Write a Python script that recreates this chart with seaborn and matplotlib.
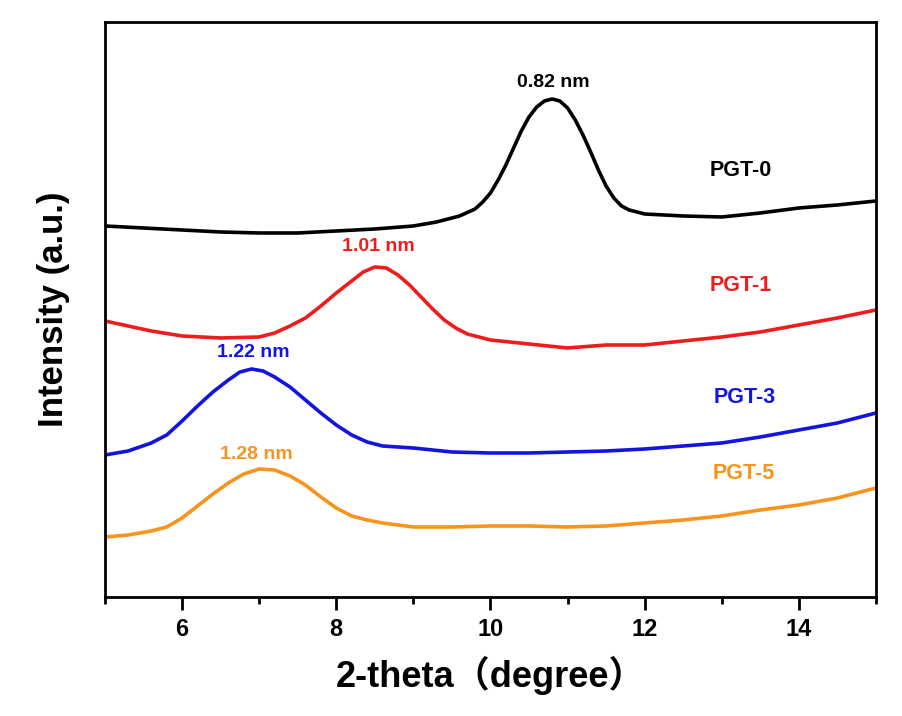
import numpy as np
import pandas as pd
import matplotlib
matplotlib.use("Agg")
import matplotlib.pyplot as plt
import seaborn as sns
from matplotlib.ticker import MultipleLocator

# ---------------- data ----------------
x_pgt0 = [5, 5.5, 6, 6.5, 7, 7.5, 8, 8.5, 9, 9.3, 9.6, 9.8, 9.9, 10.0, 10.1, 10.2, 10.3, 10.4, 10.5, 10.6,
          10.7, 10.8, 10.9, 11.0, 11.1, 11.2, 11.3, 11.4, 11.5, 11.6, 11.7, 11.8, 12, 12.5, 13, 13.5, 14, 14.5, 15]
y_pgt0 = [374, 372, 370, 368, 367, 367, 369, 371, 374, 378, 384, 391, 398, 407, 420, 435, 452, 469, 483, 493,
          499, 501, 499, 492, 480, 465, 448, 430, 414, 402, 394, 390, 386, 384, 383, 387, 392, 395, 399]

x_pgt1 = [5, 5.3, 5.6, 6, 6.5, 7, 7.2, 7.4, 7.6, 7.8, 8.0, 8.2, 8.35, 8.5, 8.65, 8.8, 8.95, 9.1, 9.25, 9.4,
          9.55, 9.7, 9.85, 10, 10.5, 11, 11.5, 12, 12.5, 13, 13.5, 14, 14.5, 15]
y_pgt1 = [279, 274, 269, 264, 262, 263, 267, 274, 282, 294, 307, 319, 328, 333, 332, 325, 315, 303, 291, 280,
          272, 266, 263, 260, 256, 252, 255, 255, 259, 263, 268, 275, 282, 290]

x_pgt3 = [5, 5.3, 5.6, 5.8, 6.0, 6.2, 6.4, 6.6, 6.75, 6.9, 7.05, 7.2, 7.4, 7.6, 7.8, 8.0, 8.2, 8.4, 8.6, 9,
          9.5, 10, 10.5, 11, 11.5, 12, 12.5, 13, 13.5, 14, 14.5, 15]
y_pgt3 = [145, 149, 157, 165, 179, 194, 208, 220, 228, 231, 229, 223, 213, 200, 187, 175, 165, 158, 154, 152,
          148, 147, 147, 148, 149, 151, 154, 157, 163, 170, 177, 187]

x_pgt5 = [5, 5.3, 5.6, 5.8, 6.0, 6.2, 6.4, 6.6, 6.8, 7.0, 7.2, 7.4, 7.6, 7.8, 8.0, 8.2, 8.4, 8.6, 9,
          9.5, 10, 10.5, 11, 11.5, 12, 12.5, 13, 13.5, 14, 14.5, 15]
y_pgt5 = [63, 65, 69, 73, 82, 94, 106, 117, 126, 131, 130, 124, 115, 103, 92, 84, 80, 77, 73,
          73, 74, 74, 73, 74, 77, 80, 84, 90, 95, 102, 112]

series_names = ["PGT-0", "PGT-1", "PGT-3", "PGT-5"]
series_colors = ["#000000", "#EE1C1C", "#1414E0", "#F7941D"]
peak_labels = ["0.82 nm", "1.01 nm", "1.22 nm", "1.28 nm"]
peak_label_pos = [(10.81, 517), (8.54, 353), (6.92, 247), (6.96, 145)]
name_label_pos = [(13.25, 429), (13.25, 314), (13.3, 202), (13.29, 126)]
xticks = [6, 8, 10, 12, 14]

sns.set_theme(style="white")
plt.rcParams["font.family"] = ["Liberation Sans", "Noto Sans CJK SC", "DejaVu Sans"]
plt.rcParams["font.weight"] = "bold"
plt.rcParams["text.color"] = "black"
plt.rcParams["axes.labelcolor"] = "black"
plt.rcParams["xtick.color"] = "black"

fig = plt.figure(figsize=(9.03, 7.16), dpi=100)
ax = fig.add_axes([0.1163, 0.1662, 0.970 - 0.1163, 0.9693 - 0.1662])

frames = []
for name, xs, ys in zip(series_names, [x_pgt0, x_pgt1, x_pgt3, x_pgt5], [y_pgt0, y_pgt1, y_pgt3, y_pgt5]):
    frames.append(pd.DataFrame({"theta": xs, "intensity": ys, "sample": name}))
df = pd.concat(frames, ignore_index=True)

sns.lineplot(data=df, x="theta", y="intensity", hue="sample", palette=dict(zip(series_names, series_colors)),
             sort=False, estimator=None, linewidth=2.6, legend=False, ax=ax)
for line in ax.get_lines():
    line.set_solid_joinstyle("round")
    line.set_solid_capstyle("round")

for txt, (px, py), c in zip(peak_labels, peak_label_pos, series_colors):
    ax.text(px, py, txt, color=c, fontsize=14, fontweight="bold", ha="center", va="center")
for txt, (px, py), c in zip(series_names, name_label_pos, series_colors):
    ax.text(px, py, txt, color=c, fontsize=15.5, fontweight="bold", ha="center", va="center")

ax.set_xlim(5, 15)
ax.set_ylim(3, 578)
ax.set_xticks(xticks)
ax.set_xticklabels([str(t) for t in xticks], fontsize=17, fontweight="bold", color="black")
ax.xaxis.set_minor_locator(MultipleLocator(1))
ax.set_yticks([])
ax.tick_params(axis="x", which="major", direction="out", length=9, width=2, bottom=True, pad=6, color="black")
ax.tick_params(axis="x", which="minor", direction="out", length=5, width=2, bottom=True, color="black")

for sp in ax.spines.values():
    sp.set_visible(True)
    sp.set_color("black")
    sp.set_linewidth(2)

ax.set_xlabel("2-theta（degree）", fontsize=26, fontweight="bold", color="black",
              family=["Liberation Sans", "Noto Sans CJK SC", "DejaVu Sans"], labelpad=11)
ax.set_ylabel("Intensity (a.u.)", fontsize=25, fontweight="bold", color="black",
              family=["Liberation Sans", "DejaVu Sans"], labelpad=25)

fig.savefig("out.png", dpi=100, facecolor="white")
